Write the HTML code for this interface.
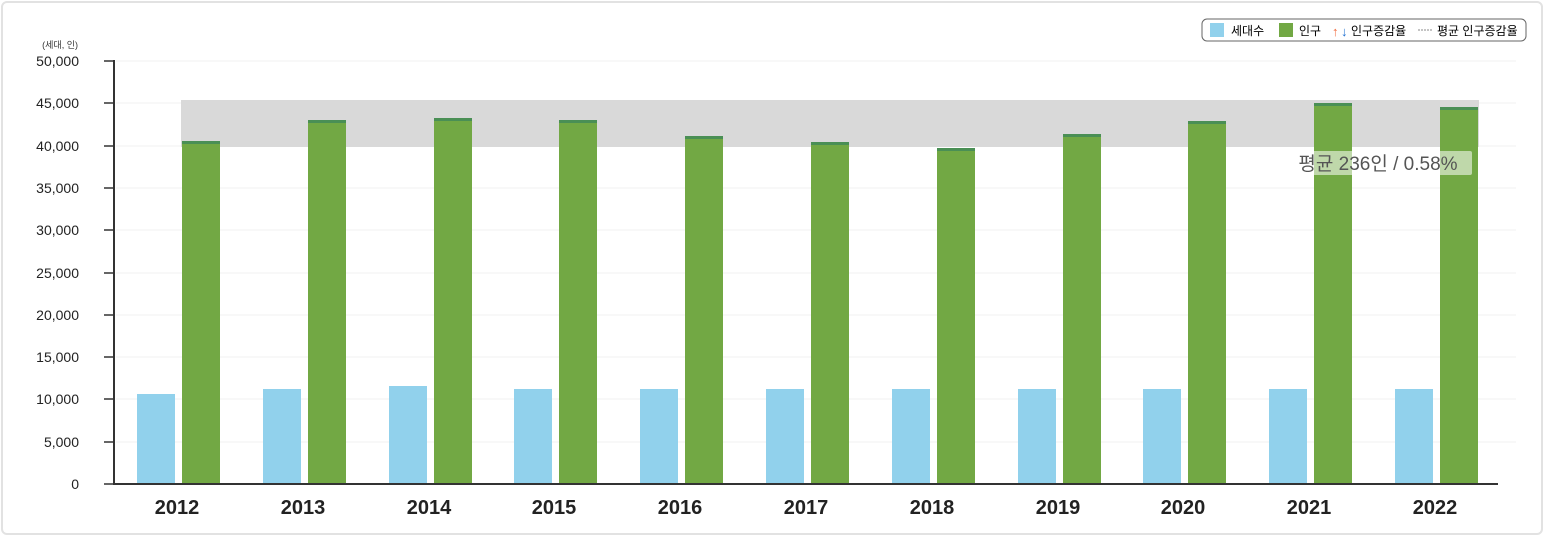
<!DOCTYPE html><html><head><meta charset="utf-8"><style>
body{margin:0;background:#fff;font-family:"Liberation Sans","Noto Sans CJK KR",sans-serif}
.w{position:absolute;left:1px;top:1px;width:1538px;height:530px;border:2px solid #e2e2e2;border-radius:6px}
</style></head><body><div class="w"></div>
<svg width="1544" height="536" style="position:absolute;left:0;top:0" font-family="Liberation Sans, Noto Sans CJK KR, sans-serif">
<g stroke="#f0f0f0">
<line x1="116" x2="1516" y1="61" y2="61"/><line x1="116" x2="1516" y1="103" y2="103"/><line x1="116" x2="1516" y1="146" y2="146"/><line x1="116" x2="1516" y1="188" y2="188"/><line x1="116" x2="1516" y1="230" y2="230"/><line x1="116" x2="1516" y1="273" y2="273"/><line x1="116" x2="1516" y1="315" y2="315"/><line x1="116" x2="1516" y1="357" y2="357"/><line x1="116" x2="1516" y1="399" y2="399"/><line x1="116" x2="1516" y1="442" y2="442"/></g>
<rect x="181" y="100" width="1298" height="47" fill="#d9d9d9"/>
<g id="bars"></g>
<g stroke="#333" stroke-width="2"><line x1="114" y1="60" x2="114" y2="485"/><line x1="113" y1="484" x2="1498" y2="484"/>
<g stroke-width="1.5"><line x1="104" x2="114" y1="61" y2="61"/><line x1="104" x2="114" y1="103" y2="103"/><line x1="104" x2="114" y1="146" y2="146"/><line x1="104" x2="114" y1="188" y2="188"/><line x1="104" x2="114" y1="230" y2="230"/><line x1="104" x2="114" y1="273" y2="273"/><line x1="104" x2="114" y1="315" y2="315"/><line x1="104" x2="114" y1="357" y2="357"/><line x1="104" x2="114" y1="399" y2="399"/><line x1="104" x2="114" y1="442" y2="442"/><line x1="104" x2="114" y1="484" y2="484"/></g></g>
<g font-size="14" fill="#222" text-anchor="end"><text x="79" y="66">50,000</text><text x="79" y="108">45,000</text><text x="79" y="151">40,000</text><text x="79" y="193">35,000</text><text x="79" y="235">30,000</text><text x="79" y="278">25,000</text><text x="79" y="320">20,000</text><text x="79" y="362">15,000</text><text x="79" y="404">10,000</text><text x="79" y="447">5,000</text><text x="79" y="489">0</text></g>
<text x="78" y="48" font-size="9" text-anchor="end" fill="#333">(세대, 인)</text>
<rect x="1284" y="151" width="188" height="24" fill="#fff" opacity="0.55" rx="2"/>
<text x="1378" y="170" font-size="19" fill="#555" text-anchor="middle">평균 236인 / 0.58%</text>
<rect x="1202" y="19" width="324" height="22" rx="5" fill="#fff" stroke="#666"/>
<rect x="1210" y="23" width="14" height="14" fill="#91d1ec"/><text x="1231" y="35" font-size="12">세대수</text>
<rect x="1279" y="23" width="14" height="14" fill="#72a844"/><text x="1299" y="35" font-size="12">인구</text>
<text x="1332" y="36" font-size="13" fill="#f06a3c">↑</text><text x="1341" y="36" font-size="13" fill="#1f6fd1">↓</text><text x="1351" y="35" font-size="12">인구증감율</text>
<line x1="1418" y1="30" x2="1432" y2="30" stroke="#888" stroke-dasharray="2,1"/><text x="1437" y="35" font-size="12">평균 인구증감율</text>
</svg>
<script>
var g=document.getElementById('bars'),s='';
var gt=[141,120,118,120,136,142,148,134,121,103,107],bt=[394,389,386,389,389,389,389,389,389,389,389];
for(var i=0;i<11;i++){var c=Math.round(177+125.8*i);
s+='<rect x="'+(c-40)+'" y="'+bt[i]+'" width="38" height="'+(484-bt[i])+'" fill="#91d1ec"/>';
s+='<rect x="'+(c+5)+'" y="'+gt[i]+'" width="38" height="'+(484-gt[i])+'" fill="#72a844"/>';
s+='<rect x="'+(c+5)+'" y="'+gt[i]+'" width="38" height="3" fill="#4a8f55"/>';
s+='<text x="'+c+'" y="514" font-size="20" font-weight="bold" text-anchor="middle" fill="#222">'+(2012+i)+'</text>';}
g.innerHTML=s;
</script>
</body></html>
